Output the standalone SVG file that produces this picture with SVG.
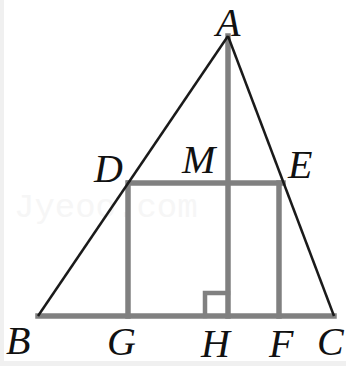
<svg xmlns="http://www.w3.org/2000/svg" width="346" height="366" viewBox="0 0 346 366">
<style>
.g{stroke:#808080;stroke-width:5.5;fill:none;stroke-linecap:square}
.k{stroke:#1a1a1a;stroke-width:2.5;fill:none}
.t{font-family:"Liberation Serif",serif;font-style:italic;font-size:40px;fill:#111}
</style>
<rect width="346" height="366" fill="#fff"/>
<rect x="0" y="0" width="4" height="366" fill="#f0f0f0"/>
<rect x="0" y="361" width="346" height="5" fill="#f0f0f0"/>
<text x="14" y="217" font-family="Liberation Mono,monospace" font-size="34" fill="#f6f6f6">Jyeoo.com</text>
<g id="connectors">
<line class="g" x1="38" y1="316" x2="334" y2="316"/>
<line class="g" x1="228" y1="36" x2="228" y2="316"/>
<line class="g" x1="129" y1="183" x2="283" y2="183"/>
<line class="g" x1="128" y1="183" x2="128" y2="316"/>
<line class="g" x1="279" y1="183" x2="279" y2="316"/>
<polyline class="g" style="stroke-width:4.5" points="205,316 205,293 228,293"/>
<line class="k" x1="228" y1="36" x2="38" y2="316"/>
<line class="k" x1="228" y1="36" x2="334" y2="316"/>
</g>
<g id="A"><text class="t" x="216" y="36">A</text></g>
<g id="D"><text class="t" x="94" y="182">D</text></g>
<g id="M"><text class="t" x="182" y="173">M</text></g>
<g id="E"><text class="t" x="288" y="178">E</text></g>
<g id="B"><text class="t" x="6" y="354">B</text></g>
<g id="G"><text class="t" x="107" y="355">G</text></g>
<g id="H"><text class="t" x="201" y="357">H</text></g>
<g id="F"><text class="t" x="269" y="357">F</text></g>
<g id="C"><text class="t" x="317" y="355">C</text></g>
</svg>
